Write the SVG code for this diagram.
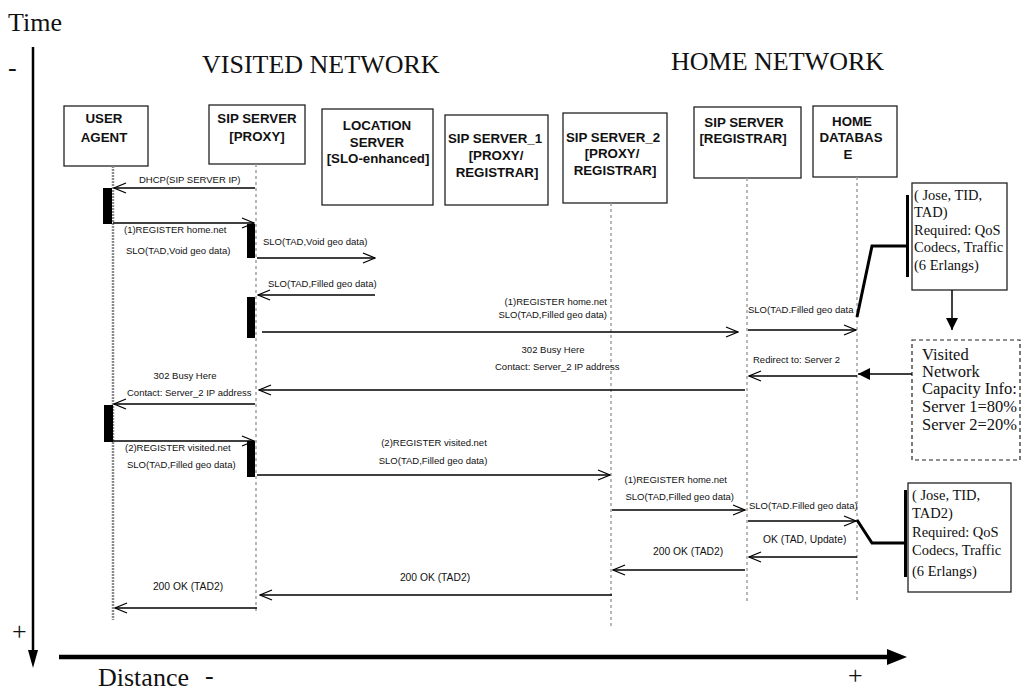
<svg xmlns="http://www.w3.org/2000/svg" width="1022" height="690" viewBox="0 0 1022 690">
<style>
.bg{fill:#fff}
.big{font-family:"Liberation Serif","Times New Roman",serif;font-size:26px;fill:#111}
.box{fill:#fff;stroke:#222;stroke-width:1.3}
.nl{font-family:"Liberation Sans",Arial,sans-serif;font-weight:bold;font-size:13.3px;fill:#111;text-anchor:middle}
.ml{font-family:"Liberation Sans",Arial,sans-serif;font-size:9.5px;fill:#111}
.ml10{font-family:"Liberation Sans",Arial,sans-serif;font-size:10.3px;fill:#111}
.mid{text-anchor:middle}
.end{text-anchor:end}
.life{stroke:#9a9a9a;stroke-width:1.4;stroke-dasharray:3 3;fill:none}
.lifeua{stroke:#8a8a8a;stroke-width:2.5;stroke-dasharray:2 1;fill:none}
.bar{fill:#000}
.msg{stroke:#000;stroke-width:1.3;fill:none;marker-end:url(#open)}
.note{font-family:"Liberation Serif","Times New Roman",serif;font-size:14.5px;fill:#111}
.note2{font-family:"Liberation Serif","Times New Roman",serif;font-size:16.5px;fill:#111}
.thick{stroke:#000;stroke-width:3;fill:none}
</style>
<defs>
<marker id="open" viewBox="0 0 14 12" refX="13" refY="6" markerWidth="14" markerHeight="12" orient="auto" markerUnits="userSpaceOnUse"><path d="M1,1 L13,6 L1,11" fill="none" stroke="#000" stroke-width="1.3"/></marker>
<marker id="solid" viewBox="0 0 12 12" refX="12" refY="6" markerWidth="12" markerHeight="12" orient="auto" markerUnits="userSpaceOnUse"><path d="M0,0 L12,6 L0,12 Z" fill="#000"/></marker>
</defs>
<rect class="bg" x="0" y="0" width="1022" height="690"/>

<g id="axes">
<text class="big" x="8" y="31">Time</text>
<text class="big" x="8" y="76">-</text>
<text class="big" x="12" y="640">+</text>
<line x1="33" y1="47" x2="33" y2="652" stroke="#000" stroke-width="2.5"/>
<path d="M28,650 L38,650 L33,668 Z" fill="#000"/>
<line x1="59" y1="657" x2="890" y2="657" stroke="#000" stroke-width="4.5"/>
<path d="M887,649 L887,665 L907,657 Z" fill="#000"/>
<text class="big" x="98" y="686" font-size="24">Distance</text>
<text class="big" x="205" y="684" font-size="24">-</text>
<text class="big" x="848" y="684" font-size="24">+</text>
<text class="big" x="202" y="73">VISITED NETWORK</text>
<text class="big" x="671" y="70">HOME NETWORK</text>
</g>

<g id="user-agent">
<rect class="box" x="64" y="106" width="84" height="60"/>
<text class="nl" x="104" y="123">USER</text>
<text class="nl" x="104" y="142">AGENT</text>
<line class="lifeua" x1="113" y1="166" x2="113" y2="620"/>
<rect class="bar" x="103" y="188" width="9" height="36"/>
<rect class="bar" x="104" y="405" width="9" height="37"/>
</g>

<g id="sip-proxy">
<rect class="box" x="209" y="105" width="96" height="59"/>
<text class="nl" x="257" y="123">SIP SERVER</text>
<text class="nl" x="257" y="141">[PROXY]</text>
<line class="life" x1="256" y1="164" x2="256" y2="614"/>
<rect class="bar" x="247" y="224" width="8" height="34"/>
<rect class="bar" x="247" y="297" width="8" height="41"/>
<rect class="bar" x="247" y="441" width="8" height="36"/>
</g>

<g id="location-server">
<rect class="box" x="322" y="109" width="111" height="96"/>
<text class="nl" x="377" y="130">LOCATION</text>
<text class="nl" x="377" y="147">SERVER</text>
<text class="nl" x="378" y="163">[SLO-enhanced]</text>
</g>

<g id="sip-server-1">
<rect class="box" x="445" y="115" width="103" height="90"/>
<text class="nl" x="495" y="143">SIP SERVER_1</text>
<text class="nl" x="496" y="160">[PROXY/</text>
<text class="nl" x="497" y="177">REGISTRAR]</text>
</g>

<g id="sip-server-2">
<rect class="box" x="563" y="113" width="104" height="90"/>
<text class="nl" x="613" y="142">SIP SERVER_2</text>
<text class="nl" x="612" y="158">[PROXY/</text>
<text class="nl" x="615" y="175">REGISTRAR]</text>
<line class="life" x1="611" y1="203" x2="611" y2="626"/>
</g>

<g id="sip-registrar">
<rect class="box" x="694" y="107" width="107" height="71"/>
<text class="nl" x="744" y="127">SIP SERVER</text>
<text class="nl" x="743" y="143">[REGISTRAR]</text>
<line class="life" x1="747" y1="178" x2="747" y2="603"/>
</g>

<g id="home-database">
<rect class="box" x="813" y="106" width="84" height="71"/>
<text class="nl" x="852" y="126">HOME</text>
<text class="nl" x="851" y="142">DATABAS</text>
<text class="nl" x="848" y="159">E</text>
<line class="life" x1="857" y1="177" x2="857" y2="603"/>
</g>

<g id="note-tad">
<rect class="box" x="912" y="183" width="95" height="107"/>
<rect class="bar" x="906" y="195" width="3" height="82"/>
<text class="note" x="914" y="200">( Jose, TID,</text>
<text class="note" x="914" y="217">TAD)</text>
<text class="note" x="914" y="235">Required: QoS</text>
<text class="note" x="914" y="252">Codecs, Traffic</text>
<text class="note" x="914" y="270">(6 Erlangs)</text>
</g>

<g id="note-capacity">
<rect x="912" y="340" width="108" height="120" fill="#fff" stroke="#222" stroke-width="1.2" stroke-dasharray="4 3"/>
<text class="note2" x="922" y="360">Visited</text>
<text class="note2" x="922" y="377">Network</text>
<text class="note2" x="922" y="394">Capacity Info:</text>
<text class="note2" x="922" y="412">Server 1=80%</text>
<text class="note2" x="922" y="430">Server 2=20%</text>
</g>

<g id="note-tad2">
<rect class="box" x="908" y="483" width="103" height="109"/>
<rect class="bar" x="904" y="490" width="3" height="87"/>
<text class="note" x="912" y="500">( Jose, TID,</text>
<text class="note" x="912" y="518">TAD2)</text>
<text class="note" x="912" y="537">Required: QoS</text>
<text class="note" x="912" y="555">Codecs, Traffic</text>
<text class="note" x="912" y="576">(6 Erlangs)</text>
</g>

<g id="connectors">
<line class="msg" x1="255" y1="188" x2="114" y2="188"/>
<line class="msg" x1="113" y1="223" x2="254" y2="223"/>
<line class="msg" x1="257" y1="258" x2="375" y2="258"/>
<line class="msg" x1="375" y1="295" x2="258" y2="295"/>
<line class="msg" x1="262" y1="332" x2="738" y2="332"/>
<line class="msg" x1="748" y1="330" x2="856" y2="330"/>
<line class="msg" x1="857" y1="376" x2="749" y2="376"/>
<line class="msg" x1="745" y1="390" x2="259" y2="390"/>
<line class="msg" x1="255" y1="404" x2="114" y2="404"/>
<line class="msg" x1="113" y1="441" x2="254" y2="441"/>
<line class="msg" x1="257" y1="475" x2="610" y2="475"/>
<line class="msg" x1="612" y1="510" x2="745" y2="510"/>
<line class="msg" x1="748" y1="521" x2="856" y2="521"/>
<line class="msg" x1="857" y1="557" x2="749" y2="557"/>
<line class="msg" x1="745" y1="570" x2="613" y2="570"/>
<line class="msg" x1="612" y1="595" x2="260" y2="595"/>
<line class="msg" x1="257" y1="608" x2="115" y2="608"/>
<path class="thick" d="M857,317 L872,246 L906,246"/>
<path class="thick" d="M857,520 L872,543 L905,543"/>
<line x1="952" y1="290" x2="952" y2="330" stroke="#000" stroke-width="1.5" marker-end="url(#solid)"/>
<line x1="912" y1="374" x2="858" y2="374" stroke="#000" stroke-width="1.5" marker-end="url(#solid)"/>

<text class="ml" x="139" y="183">DHCP(SIP SERVER IP)</text>
<text class="ml" x="124" y="233">(1)REGISTER home.net</text>
<text class="ml" x="126" y="254">SLO(TAD,Void geo data)</text>
<text class="ml" x="263" y="245">SLO(TAD,Void geo data)</text>
<text class="ml" x="268" y="287">SLO(TAD,Filled geo data)</text>
<text class="ml end" x="607" y="305">(1)REGISTER home.net</text>
<text class="ml end" x="607" y="318">SLO(TAD,Filled geo data)</text>
<text class="ml" x="748" y="313">SLO(TAD.Filled geo data</text>
<text class="ml" x="753" y="363">Redirect to: Server 2</text>
<text class="ml mid" x="553" y="353">302 Busy Here</text>
<text class="ml" x="495" y="370">Contact: Server_2 IP address</text>
<text class="ml mid" x="185" y="379">302 Busy Here</text>
<text class="ml" x="127" y="396">Contact: Server_2 IP address</text>
<text class="ml" x="125" y="451">(2)REGISTER visited.net</text>
<text class="ml" x="127" y="468">SLO(TAD,Filled geo data)</text>
<text class="ml mid" x="434" y="446">(2)REGISTER visited.net</text>
<text class="ml mid" x="433" y="464">SLO(TAD,Filled geo data)</text>
<text class="ml end" x="727" y="483">(1)REGISTER home.net</text>
<text class="ml end" x="734" y="500">SLO(TAD,Filled geo data)</text>
<text class="ml" x="749" y="509">SLO(TAD.Filled geo data)</text>
<text class="ml10" x="763" y="543">OK (TAD, Update)</text>
<text class="ml10" x="653" y="555">200 OK (TAD2)</text>
<text class="ml10 mid" x="435" y="581">200 OK (TAD2)</text>
<text class="ml10 mid" x="188" y="590">200 OK (TAD2)</text>
</g>
</svg>
